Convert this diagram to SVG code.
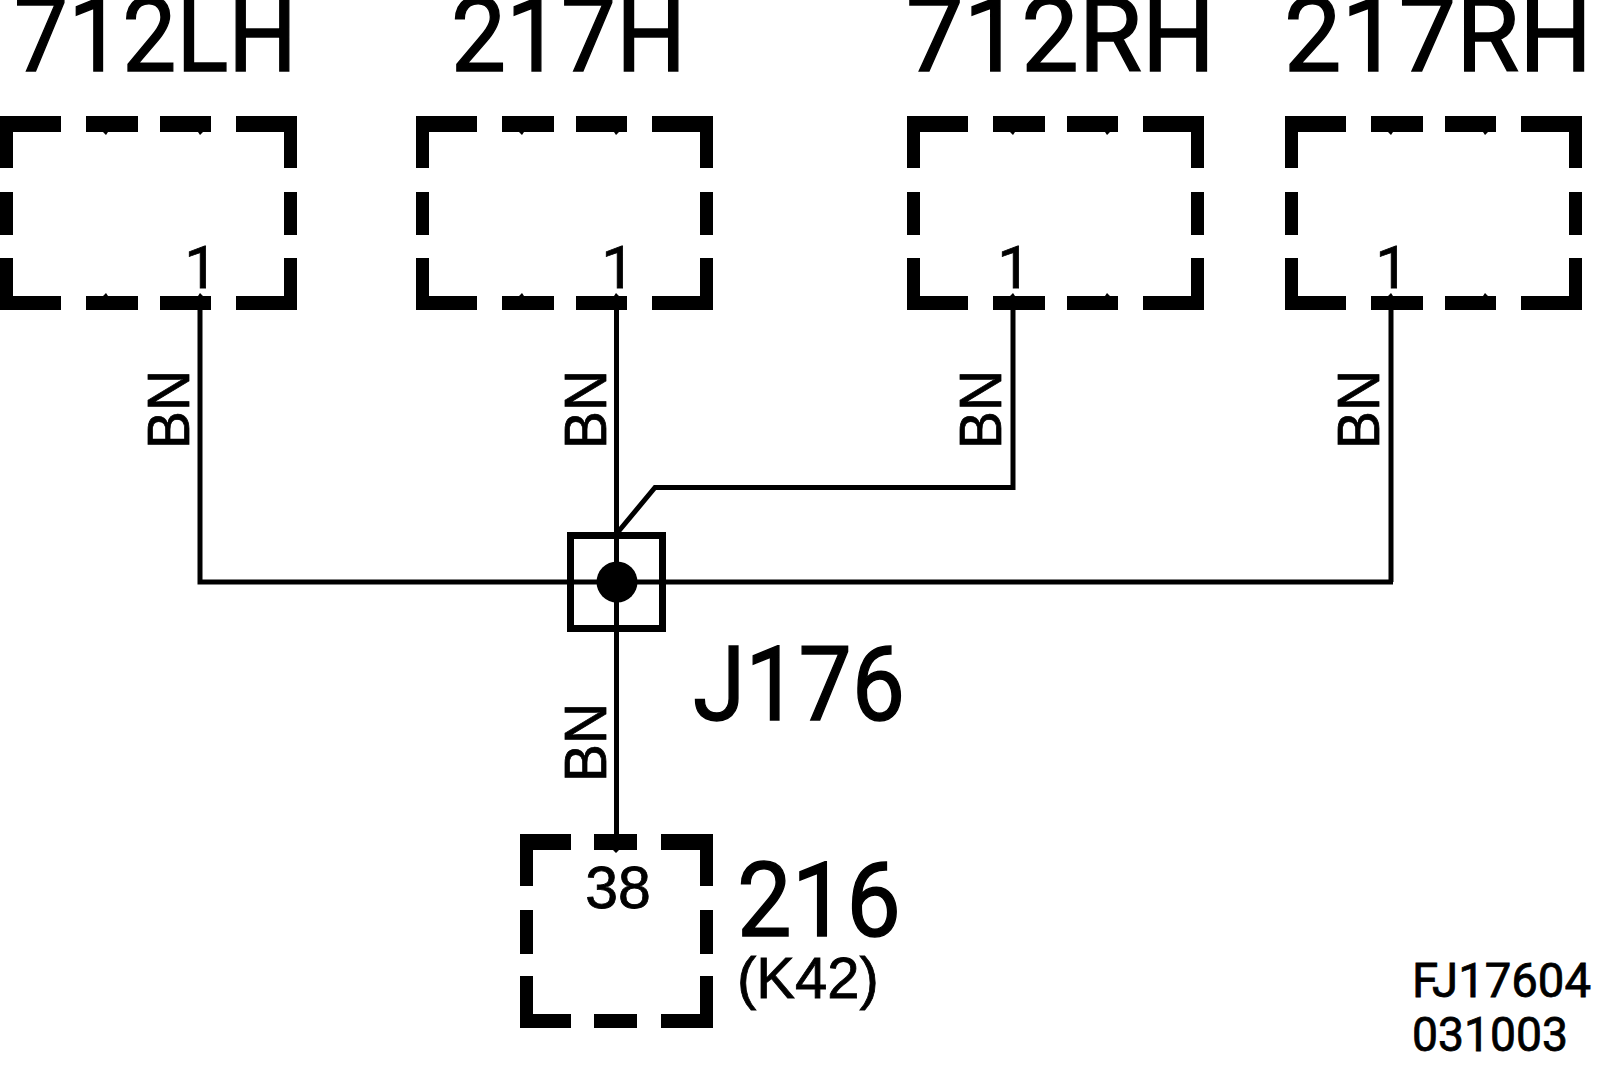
<svg xmlns="http://www.w3.org/2000/svg" width="1600" height="1076" viewBox="0 0 1600 1076">
<style>
text{fill:#000;stroke:#000;stroke-width:.8px}
.big,.pin,.code{font-family:Roboto,"Liberation Sans",sans-serif}
.wire,.sub,.num{font-family:"Liberation Sans",Arial,sans-serif}
.big{font-size:104px;stroke-width:1.4px}
.pin{font-size:60px;text-anchor:middle}
.num{font-size:59px;text-anchor:middle}
.wire{font-size:60px}
.sub{font-size:58px}
.code{font-size:48px}
.frame{fill:#000;stroke:none}
.ln{fill:none;stroke:#000;stroke-width:5}
</style>
<defs>
<path id="wide" class="frame" d="M0 116H61V132H13V168H0ZM86 116H138V132H108L106 135L103 132H86ZM160 116H211V132H203L200 135L198 132H160ZM236 116H297V168H284V132H236ZM0 192H13V235H0ZM284 192H297V235H284ZM0 258H13V296H61V310H0ZM86 296H103L106 293L108 296H138V310H86ZM160 296H198L200 293L203 296H211V310H160ZM284 258H297V310H236V296H284Z"/>
</defs>
<g id="connectors">
<path class="ln" d="M200 305V582H1393"/>
<path class="ln" d="M616.500 305V840"/>
<path class="ln" d="M1013 305V487.500H655L618 532"/>
<path class="ln" d="M1391 305V582"/>
</g>
<g id="node-712LH"><use href="#wide"/><text class="big" x="14" y="71" textLength="283" lengthAdjust="spacingAndGlyphs">712LH</text><text class="pin" x="201" y="288">1</text><text class="wire" transform="translate(189 449) rotate(-90)" textLength="79" lengthAdjust="spacingAndGlyphs">BN</text></g>
<g id="node-217H"><use href="#wide" x="416"/><text class="big" x="451" y="71" textLength="235" lengthAdjust="spacingAndGlyphs">217H</text><text class="pin" x="618" y="288">1</text><text class="wire" transform="translate(606 449) rotate(-90)" textLength="79" lengthAdjust="spacingAndGlyphs">BN</text></g>
<g id="node-712RH"><use href="#wide" x="907"/><text class="big" x="906" y="71" textLength="309" lengthAdjust="spacingAndGlyphs">712RH</text><text class="pin" x="1014" y="288">1</text><text class="wire" transform="translate(1001 449) rotate(-90)" textLength="79" lengthAdjust="spacingAndGlyphs">BN</text></g>
<g id="node-217RH"><use href="#wide" x="1285"/><text class="big" x="1284" y="71" textLength="308" lengthAdjust="spacingAndGlyphs">217RH</text><text class="pin" x="1392" y="288">1</text><text class="wire" transform="translate(1379 449) rotate(-90)" textLength="79" lengthAdjust="spacingAndGlyphs">BN</text></g>
<g id="node-J176">
<rect x="570.500" y="535.500" width="92" height="93" fill="none" stroke="#000" stroke-width="7"/>
<circle cx="617" cy="582" r="20.500" fill="#000"/>
<text class="big" x="693" y="720" textLength="212" lengthAdjust="spacingAndGlyphs">J176</text>
<text class="wire" transform="translate(606 782) rotate(-90)" textLength="79" lengthAdjust="spacingAndGlyphs">BN</text>
</g>
<g id="node-216">
<path class="frame" d="M520 834H571V850H533V886H520ZM594 834H637V850H619L616 853L613 850H594ZM661 834H713V886H700V850H661ZM520 910H533V954H520ZM700 910H713V954H700ZM520 976H533V1014H571V1028H520ZM594 1014H637V1028H594ZM700 976H713V1028H661V1014H700Z"/>
<text class="num" x="618" y="908">38</text>
<text class="big" x="737" y="936" textLength="164" lengthAdjust="spacingAndGlyphs">216</text>
<text class="sub" x="737" y="998">(K42)</text>
</g>
<g id="ref"><text class="code" x="1412" y="997" textLength="179" lengthAdjust="spacingAndGlyphs">FJ17604</text><text class="code" x="1412" y="1051" textLength="156" lengthAdjust="spacingAndGlyphs">031003</text></g>
</svg>
